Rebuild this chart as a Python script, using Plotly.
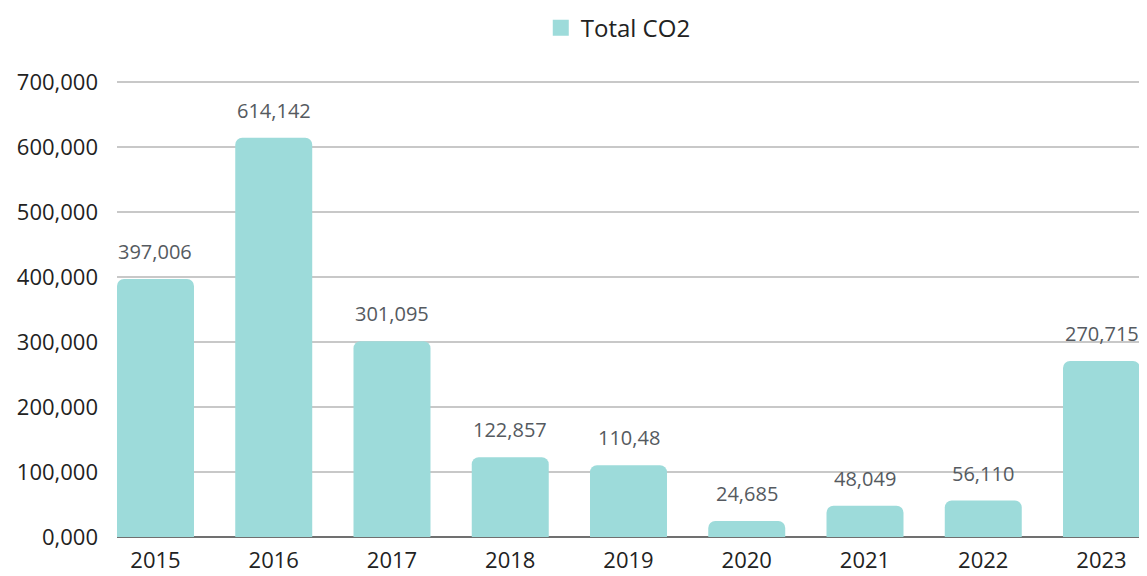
import plotly.graph_objects as go

years = ["2015", "2016", "2017", "2018", "2019", "2020", "2021", "2022", "2023"]
co2 = [397.006, 614.142, 301.095, 122.857, 110.48, 24.685, 48.049, 56.110, 270.715]
co2_labels = ["397,006", "614,142", "301,095", "122,857", "110,48", "24,685", "48,049", "56,110", "270,715"]
y_ticks = [0, 100, 200, 300, 400, 500, 600, 700]
y_tick_labels = ["0,000", "100,000", "200,000", "300,000", "400,000", "500,000", "600,000", "700,000"]

font_family = "'Open Sans', Lato, sans-serif"
bar_color = "#9ddbda"
bar_frac = 0.651

fig = go.Figure()
fig.add_trace(go.Bar(
    x=years, y=co2, name="Total CO2",
    marker=dict(color=bar_color, cornerradius=7, line=dict(width=0)),
    showlegend=False,
))
# legend entry with a larger square swatch
fig.add_trace(go.Scatter(
    x=[None], y=[None], mode="markers", name="Total CO2",
    marker=dict(symbol="square", size=26, color=bar_color),
    showlegend=True,
))

# category index positions for the value labels
for i, (v, lab) in enumerate(zip(co2, co2_labels)):
    fig.add_annotation(x=i, y=v, xref="x", yref="y", text=lab, showarrow=False,
                       xanchor="center", yanchor="bottom", yshift=12,
                       font=dict(size=20, color="#555a60", family=font_family))

fig.update_layout(
    width=1147, height=576,
    margin=dict(l=109, r=15, t=72, b=47, autoexpand=False),
    paper_bgcolor="white", plot_bgcolor="white",
    bargap=1 - bar_frac,
    font=dict(family=font_family, color="#222"),
    showlegend=True,
    legend=dict(orientation="h", x=0.49, xanchor="center", y=0.965, yanchor="middle",
                yref="container", itemsizing="trace",
                font=dict(size=24, color="#222", family=font_family)),
    xaxis=dict(type="category", tickfont=dict(size=22, color="#222"), showgrid=False,
               showline=False, ticks="", ticklabelstandoff=8,
               range=[-bar_frac / 2, len(years) - 1 + bar_frac / 2]),
    yaxis=dict(range=[0, 703], tickvals=y_ticks, ticktext=y_tick_labels,
               tickfont=dict(size=22, color="#222"), ticklabelstandoff=18,
               showgrid=True, gridcolor="#c8c8c8", gridwidth=2,
               zeroline=True, zerolinecolor="#707070", zerolinewidth=2,
               ticks="", ticklen=0),
)

fig.write_html("out.html")
